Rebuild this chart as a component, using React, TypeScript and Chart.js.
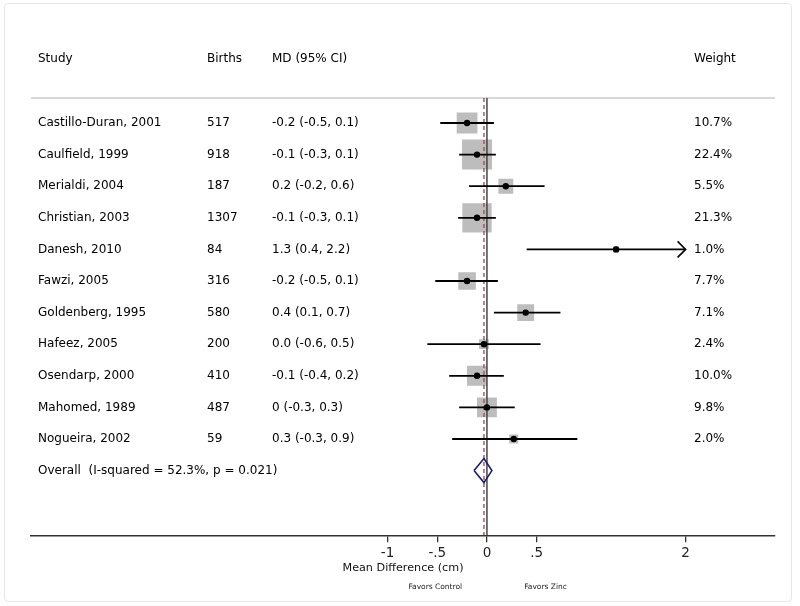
import React, { useEffect, useRef } from "react";
import { Chart, registerables } from "chart.js";

Chart.register(...registerables);

// ---------- data ----------
const STUDIES = [
  "Castillo-Duran, 2001",
  "Caulfield, 1999",
  "Merialdi, 2004",
  "Christian, 2003",
  "Danesh, 2010",
  "Fawzi, 2005",
  "Goldenberg, 1995",
  "Hafeez, 2005",
  "Osendarp, 2000",
  "Mahomed, 1989",
  "Nogueira, 2002",
];
const BIRTHS = [517, 918, 187, 1307, 84, 316, 580, 200, 410, 487, 59];
const MD_LABELS = [
  "-0.2 (-0.5, 0.1)",
  "-0.1 (-0.3, 0.1)",
  "0.2 (-0.2, 0.6)",
  "-0.1 (-0.3, 0.1)",
  "1.3 (0.4, 2.2)",
  "-0.2 (-0.5, 0.1)",
  "0.4 (0.1, 0.7)",
  "0.0 (-0.6, 0.5)",
  "-0.1 (-0.4, 0.2)",
  "0 (-0.3, 0.3)",
  "0.3 (-0.3, 0.9)",
];
const EST = [-0.2, -0.1, 0.19, -0.1, 1.3, -0.2, 0.39, -0.03, -0.1, 0.0, 0.27];
const LO = [-0.47, -0.28, -0.18, -0.29, 0.4, -0.52, 0.07, -0.6, -0.38, -0.28, -0.35];
const HI = [0.07, 0.09, 0.58, 0.09, 2.2, 0.11, 0.74, 0.54, 0.17, 0.28, 0.91];
const WEIGHTS = [10.7, 22.4, 5.5, 21.3, 1.0, 7.7, 7.1, 2.4, 10.0, 9.8, 2.0];

const OVERALL_LABEL = "Overall  (I-squared = 52.3%, p = 0.021)";
const OVERALL_EST = -0.03;
const OVERALL_LO = -0.13;
const OVERALL_HI = 0.05;

const HEADERS = ["Study", "Births", "MD (95% CI)", "Weight"];
const TICK_VALUES = [-1, -0.5, 0, 0.5, 2];
const TICK_LABELS = ["-1", "-.5", "0", ".5", "2"];
const X_TITLE = "Mean Difference (cm)";
const FAVORS = ["Favors Control", "Favors Zinc"];
const FAVORS_AT = [-0.52, 0.59];

// ---------- layout / style ----------
const FONT = "'DejaVu Sans', sans-serif";
const X_MIN = -4.59;
const X_MAX = 2.9;
const Y_MIN = -3.22;
const Y_MAX = 13.05;
const HEADER_ROW = -2.02;
const RULE_ROW = -0.79;
const OVERALL_ROW = STUDIES.length;
const CLIP_AT = TICK_VALUES[TICK_VALUES.length - 1];
const COL_X = [38, 207, 272, 694];
const BOX_SCALE = 6.35;
const DIAMOND_HALF = 0.38;

const textPlugin = {
  id: "forestText",
  afterDatasetsDraw(chart: any) {
    const { ctx, chartArea } = chart;
    const x = chart.scales.x;
    const y = chart.scales.y;
    ctx.save();
    ctx.fillStyle = "#000";
    ctx.textBaseline = "middle";
    ctx.textAlign = "left";
    ctx.font = `12px ${FONT}`;
    const hy = y.getPixelForValue(HEADER_ROW);
    HEADERS.forEach((h, i) => ctx.fillText(h, COL_X[i], hy));
    STUDIES.forEach((s, i) => {
      const py = y.getPixelForValue(i);
      ctx.fillText(s, COL_X[0], py);
      ctx.fillText(String(BIRTHS[i]), COL_X[1], py);
      ctx.fillText(MD_LABELS[i], COL_X[2], py);
      ctx.fillText(WEIGHTS[i].toFixed(1) + "%", COL_X[3], py);
    });
    ctx.fillText(OVERALL_LABEL, COL_X[0], y.getPixelForValue(OVERALL_ROW));

    // arrows for CIs beyond the last tick
    ctx.strokeStyle = "#000";
    ctx.lineWidth = 1.6;
    HI.forEach((h, i) => {
      if (h > CLIP_AT) {
        const tx = x.getPixelForValue(CLIP_AT);
        const ty = y.getPixelForValue(i);
        ctx.beginPath();
        ctx.moveTo(tx - 8, ty - 8);
        ctx.lineTo(tx, ty);
        ctx.lineTo(tx - 8, ty + 8);
        ctx.stroke();
      }
    });

    ctx.font = `7.5px ${FONT}`;
    ctx.textAlign = "center";
    ctx.fillStyle = "#222";
    FAVORS.forEach((f, i) =>
      ctx.fillText(f, x.getPixelForValue(FAVORS_AT[i]), chartArea.bottom + 52)
    );
    ctx.restore();
  },
};

export default function App() {
  const ref = useRef<HTMLCanvasElement | null>(null);

  useEffect(() => {
    if (!ref.current) return;
    Chart.defaults.font.family = FONT;

    const ciSets = STUDIES.map((_, i) => ({
      data: [
        { x: LO[i], y: i },
        { x: Math.min(HI[i], CLIP_AT), y: i },
      ],
      showLine: true,
      borderColor: "#000",
      borderWidth: 1.8,
      pointRadius: 0,
      order: 1,
    }));

    const chart = new Chart(ref.current, {
      type: "scatter",
      data: {
        datasets: [
          {
            data: EST.map((v, i) => ({ x: v, y: i })),
            pointStyle: "circle",
            pointRadius: 3.2,
            backgroundColor: "#000",
            borderWidth: 0,
            order: 0,
          },
          ...ciSets,
          {
            data: [
              { x: OVERALL_LO, y: OVERALL_ROW },
              { x: OVERALL_EST, y: OVERALL_ROW - DIAMOND_HALF },
              { x: OVERALL_HI, y: OVERALL_ROW },
              { x: OVERALL_EST, y: OVERALL_ROW + DIAMOND_HALF },
              { x: OVERALL_LO, y: OVERALL_ROW },
            ],
            showLine: true,
            borderColor: "#1c1c78",
            borderWidth: 1.6,
            pointRadius: 0,
            order: 1,
          },
          {
            data: [
              { x: 0, y: RULE_ROW },
              { x: 0, y: Y_MAX },
            ],
            showLine: true,
            borderColor: "#444",
            borderWidth: 1.5,
            pointRadius: 0,
            order: 2,
          },
          {
            data: [
              { x: OVERALL_EST, y: RULE_ROW },
              { x: OVERALL_EST, y: Y_MAX },
            ],
            showLine: true,
            borderColor: "#a0505c",
            borderWidth: 1.4,
            borderDash: [4, 3],
            pointRadius: 0,
            order: 2,
          },
          {
            data: EST.map((v, i) => ({ x: v, y: i })),
            pointStyle: "rect",
            pointRadius: WEIGHTS.map((w) => (BOX_SCALE * Math.sqrt(w)) / Math.SQRT2),
            backgroundColor: "#bdbdbd",
            borderWidth: 0,
            order: 3,
          },
          {
            data: [
              { x: X_MIN, y: RULE_ROW },
              { x: X_MAX, y: RULE_ROW },
            ],
            showLine: true,
            borderColor: "#cccccc",
            borderWidth: 1.5,
            pointRadius: 0,
            order: 4,
          },
        ] as any,
      },
      options: {
        responsive: false,
        animation: false,
        events: [],
        layout: { padding: { left: 31, right: 25, top: 10, bottom: 31 } },
        plugins: { legend: { display: false }, tooltip: { enabled: false } },
        scales: {
          x: {
            type: "linear",
            min: X_MIN,
            max: X_MAX,
            afterBuildTicks: (s: any) => {
              s.ticks = TICK_VALUES.map((v) => ({ value: v }));
            },
            ticks: {
              callback: (_v: any, i: number) => TICK_LABELS[i],
              font: { family: FONT, size: 13.5 },
              color: "#222",
              padding: 3,
              maxRotation: 0,
              autoSkip: false,
            },
            grid: {
              drawOnChartArea: false,
              drawTicks: true,
              tickLength: 7,
              color: "#333",
              lineWidth: 1.3,
            },
            border: { display: true, color: "#333", width: 1.5 },
            title: {
              display: true,
              text: X_TITLE,
              font: { family: FONT, size: 11.2 },
              color: "#111",
              padding: { top: -3, bottom: 0 },
            },
          },
          y: {
            type: "linear",
            display: false,
            reverse: true,
            min: Y_MIN,
            max: Y_MAX,
          },
        },
      } as any,
      plugins: [textPlugin],
    });
    return () => chart.destroy();
  }, []);

  return (
    <div style={{ position: "absolute", left: 0, top: 0, width: 800, height: 606, background: "#fff" }}>
      <div
        style={{
          position: "absolute",
          left: 4,
          top: 3,
          width: 788,
          height: 599,
          border: "1px solid #e6e6e6",
          borderRadius: 4,
          boxSizing: "border-box",
        }}
      />
      <canvas
        ref={ref}
        width={800}
        height={606}
        style={{ position: "absolute", left: 0, top: 0, width: 800, height: 606 }}
      />
    </div>
  );
}
